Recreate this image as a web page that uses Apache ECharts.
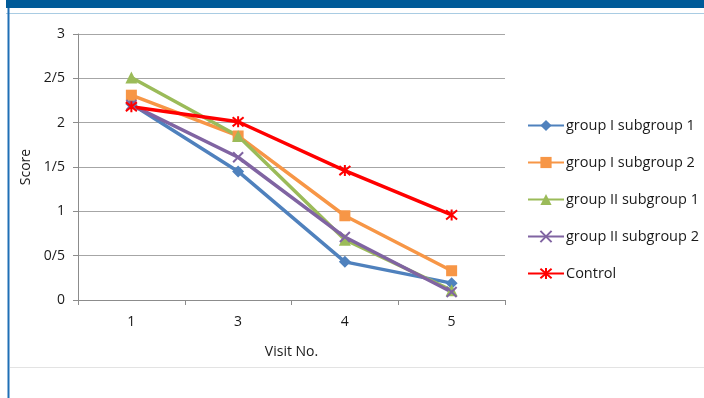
<!DOCTYPE html>
<html>
<head>
<meta charset="utf-8">
<script src="https://cdn.jsdelivr.net/npm/echarts@6/dist/echarts.min.js"></script>
<style>
  html, body { margin: 0; padding: 0; background: #fff; }
  #chart { width: 704px; height: 398px; }
</style>
</head>
<body>
<div id="chart"></div>
<script>
// Visit categories and score per group
const visits = ['1', '3', '4', '5'];
const yTicks = { 0: '0', 0.5: '0/5', 1: '1', 1.5: '1/5', 2: '2', 2.5: '2/5', 3: '3' };

const g1s1 = [2.21, 1.45, 0.43, 0.19];
const g1s2 = [2.31, 1.85, 0.95, 0.33];
const g2s1 = [2.51, 1.85, 0.68, 0.11];
const g2s2 = [2.20, 1.61, 0.71, 0.09];
const control = [2.18, 2.01, 1.46, 0.96];

const names = ['group I subgroup 1', 'group I subgroup 2', 'group II subgroup 1', 'group II subgroup 2', 'Control'];
const colors = ['#4F81BD', '#F79646', '#9BBB59', '#8064A2', '#FF0000'];

const xMark = 'path://M0,0 L10,10 M10,0 L0,10';
const starMark = 'path://M0,0 L10,10 M10,0 L0,10 M5,-1 L5,11';

function makeSeries(name, data, color, symbol, size, stroke) {
  return {
    name: name,
    type: 'line',
    data: data,
    symbol: symbol,
    symbolSize: size,
    showSymbol: true,
    lineStyle: { color: color, width: 3.5 },
    itemStyle: stroke
      ? { color: 'transparent', borderColor: color, borderWidth: 2 }
      : { color: color, borderColor: color, borderWidth: 0 },
    emphasis: { disabled: true },
    z: 2
  };
}

const font = 'Open Sans, Lato, sans-serif';
const chart = echarts.init(document.getElementById('chart'), null, { renderer: 'canvas' });

chart.setOption({
  animation: false,
  textStyle: { fontFamily: font },
  graphic: [
    { type: 'rect', shape: { x: 6, y: 0, width: 698, height: 8 }, style: { fill: '#005B99' } },
    { type: 'line', shape: { x1: 6, y1: 13.5, x2: 704, y2: 13.5 }, style: { stroke: '#A9CCE3', lineWidth: 1 } },
    { type: 'line', shape: { x1: 8.5, y1: 8, x2: 8.5, y2: 398 }, style: { stroke: '#1F6FB5', lineWidth: 2 } },
    { type: 'line', shape: { x1: 10, y1: 367.5, x2: 704, y2: 367.5 }, style: { stroke: '#E3E3E3', lineWidth: 1 } }
  ],
  grid: { left: 78, top: 34, width: 427, height: 266, containLabel: false },
  legend: {
    orient: 'vertical',
    left: 522,
    top: 113,
    itemWidth: 36,
    itemHeight: 14,
    itemGap: 22,
    textStyle: { fontSize: 14.5, color: '#1a1a1a', fontFamily: font, padding: [0, 0, 0, -3] },
    data: names
  },
  xAxis: {
    type: 'category',
    data: visits,
    boundaryGap: true,
    name: 'Visit No.',
    nameLocation: 'middle',
    nameGap: 45,
    nameTextStyle: { fontSize: 14, color: '#1a1a1a' },
    axisLine: { lineStyle: { color: '#8c8c8c', width: 1 } },
    axisTick: { show: true, length: 5, lineStyle: { color: '#8c8c8c' } },
    axisLabel: { fontSize: 14, color: '#1a1a1a', margin: 15 },
    splitLine: { show: false }
  },
  yAxis: {
    type: 'value',
    min: 0,
    max: 3,
    interval: 0.5,
    name: 'Score',
    nameLocation: 'middle',
    nameGap: 45,
    nameRotate: 90,
    nameTextStyle: { fontSize: 14, color: '#1a1a1a' },
    axisLine: { show: true, lineStyle: { color: '#8c8c8c', width: 1 } },
    axisTick: { show: true, length: 5, inside: false, lineStyle: { color: '#8c8c8c' } },
    axisLabel: {
      fontSize: 14, color: '#1a1a1a', margin: 13,
      formatter: function (v) { return yTicks[v] !== undefined ? yTicks[v] : String(v); }
    },
    splitLine: { show: true, lineStyle: { color: '#A6A6A6', width: 1 } }
  },
  series: [
    makeSeries(names[0], g1s1, colors[0], 'diamond', 12, false),
    makeSeries(names[1], g1s2, colors[1], 'rect', 11, false),
    makeSeries(names[2], g2s1, colors[2], 'triangle', 12, false),
    makeSeries(names[3], g2s2, colors[3], xMark, 10, true),
    makeSeries(names[4], control, colors[4], starMark, 11, true)
  ]
});
</script>
</body>
</html>
